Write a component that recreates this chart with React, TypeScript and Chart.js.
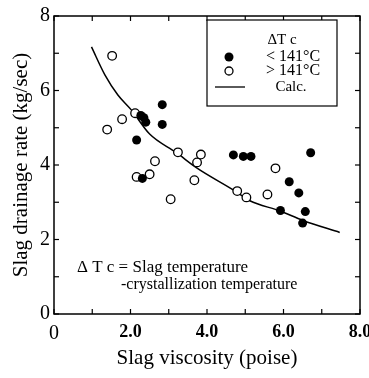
import React, { useEffect, useRef } from "react";
import { Chart, registerables } from "chart.js";

Chart.register(...registerables);

// ---- data ----
const filledX = [2.83, 2.83, 2.27, 2.35, 2.4, 2.16, 2.31, 4.69, 4.95, 5.15, 6.71, 6.15, 6.4, 5.92, 6.57, 6.5];
const filledY = [5.62, 5.09, 5.33, 5.27, 5.15, 4.67, 3.64, 4.27, 4.23, 4.23, 4.33, 3.55, 3.25, 2.78, 2.75, 2.44];

const openX = [1.52, 1.39, 1.78, 2.12, 2.16, 2.5, 2.64, 3.24, 3.05, 3.67, 3.74, 3.84, 4.79, 5.03, 5.58, 5.79];
const openY = [6.93, 4.95, 5.23, 5.39, 3.68, 3.75, 4.1, 4.34, 3.08, 3.59, 4.07, 4.28, 3.3, 3.13, 3.21, 3.91];

const calcX = [0.98, 1.33, 1.67, 2.02, 2.5, 3.2, 3.72, 4.72, 5.12, 5.9, 6.51, 7.47];
const calcY = [7.17, 6.42, 5.88, 5.48, 4.83, 4.33, 3.93, 3.31, 3.04, 2.77, 2.51, 2.19];

const xTickValues = [0, 2, 4, 6, 8];
const xTickLabels = ["0", "2.0", "4.0", "6.0", "8.0"];
const yTickValues = [0, 2, 4, 6, 8];
const yTickLabels = ["0", "2", "4", "6", "8"];
const minorTickValues = [0, 1, 2, 3, 4, 5, 6, 7, 8];

const legendTitle = "\u0394T c";
const legendLabels = ["< 141\u00B0C", "> 141\u00B0C", "Calc."];
const noteLines = ["\u0394 T c = Slag temperature", "-crystallization temperature"];
const xTitle = "Slag viscosity (poise)";
const yTitle = "Slag drainage rate (kg/sec)";

const SERIF = "'Liberation Serif', 'Times New Roman', serif";

const decorPlugin = {
  id: "decor",
  afterDatasetsDraw(chart: any) {
    const { ctx, chartArea: a, scales } = chart;
    const xs = scales.x;
    const ys = scales.y;
    ctx.save();
    ctx.strokeStyle = "#000";
    ctx.fillStyle = "#000";
    const line = (x1: number, y1: number, x2: number, y2: number) => {
      ctx.beginPath();
      ctx.moveTo(x1, y1);
      ctx.lineTo(x2, y2);
      ctx.stroke();
    };
    // frame
    ctx.lineWidth = 1.5;
    ctx.strokeRect(a.left, a.top, a.right - a.left, a.bottom - a.top);
    // inward ticks on all four sides
    ctx.lineWidth = 1.2;
    const tl = 5;
    for (const v of minorTickValues) {
      const px = xs.getPixelForValue(v);
      line(px, a.bottom, px, a.bottom - tl);
      line(px, a.top, px, a.top + tl);
      const py = ys.getPixelForValue(v);
      line(a.left, py, a.left + tl, py);
      line(a.right, py, a.right - tl, py);
    }

    // legend box
    const bx = 207, by = 20, bw = 130, bh = 86;
    ctx.fillStyle = "#fff";
    ctx.fillRect(bx, by, bw, bh);
    ctx.lineWidth = 1.2;
    ctx.strokeRect(bx, by, bw, bh);
    ctx.fillStyle = "#000";
    ctx.textBaseline = "middle";
    ctx.font = `15px ${SERIF}`;
    ctx.textAlign = "center";
    ctx.fillText(legendTitle, 282, 40);
    // filled marker
    ctx.beginPath();
    ctx.arc(229, 57, 4.5, 0, Math.PI * 2);
    ctx.fill();
    // open marker
    ctx.beginPath();
    ctx.arc(229, 71, 4, 0, Math.PI * 2);
    ctx.fillStyle = "#fff";
    ctx.fill();
    ctx.lineWidth = 1.3;
    ctx.stroke();
    ctx.fillStyle = "#000";
    // line sample
    ctx.lineWidth = 1.3;
    line(215, 87, 245, 87);
    ctx.font = `16px ${SERIF}`;
    ctx.textAlign = "left";
    ctx.fillText(legendLabels[0], 266, 57);
    ctx.fillText(legendLabels[1], 266, 71);
    ctx.textAlign = "center";
    ctx.font = `15px ${SERIF}`;
    ctx.fillText(legendLabels[2], 291, 87);

    // note text
    ctx.textAlign = "left";
    ctx.font = `17px ${SERIF}`;
    ctx.fillText(noteLines[0], 77, 268);
    ctx.font = `16px ${SERIF}`;
    ctx.fillText(noteLines[1], 121, 285);
    ctx.restore();
  },
};

export default function App() {
  const ref = useRef<HTMLCanvasElement | null>(null);

  useEffect(() => {
    if (!ref.current) return;
    Chart.defaults.font.family = SERIF;
    Chart.defaults.color = "#000";
    const chart = new Chart(ref.current, {
      type: "scatter",
      data: {
        datasets: [
          {
            label: legendLabels[0],
            data: filledX.map((x, i) => ({ x, y: filledY[i] })),
            backgroundColor: "#000",
            borderColor: "#000",
            pointRadius: 4.5,
            borderWidth: 0,
          },
          {
            label: legendLabels[1],
            data: openX.map((x, i) => ({ x, y: openY[i] })),
            backgroundColor: "#fff",
            borderColor: "#000",
            pointRadius: 4.3,
            borderWidth: 1.3,
          },
          {
            label: legendLabels[2],
            data: calcX.map((x, i) => ({ x, y: calcY[i] })),
            showLine: true,
            borderColor: "#000",
            borderWidth: 1.5,
            pointRadius: 0,
            cubicInterpolationMode: "monotone",
            fill: false,
          },
        ],
      },
      options: {
        animation: false,
        responsive: false,
        maintainAspectRatio: false,
        layout: { padding: { top: 14, right: 9, left: 0, bottom: 0 } },
        plugins: {
          legend: { display: false },
          tooltip: { enabled: false },
        },
        scales: {
          x: {
            type: "linear",
            min: 0,
            max: 8,
            afterBuildTicks: (s: any) => {
              s.ticks = xTickValues.map((v) => ({ value: v }));
            },
            afterFit: (s: any) => {
              s.height = 64;
              s.paddingRight = 0;
              s.paddingLeft = 0;
            },
            grid: { display: false, drawTicks: false },
            border: { display: false },
            ticks: {
              padding: 8,
              maxRotation: 0,
              autoSkip: false,
              callback: (v: any) => {
                const i = xTickValues.indexOf(Number(v));
                return i >= 0 ? xTickLabels[i] : "";
              },
              font: (c: any) =>
                c.tick && c.tick.value === 0
                  ? { family: SERIF, size: 20, weight: "normal" }
                  : { family: SERIF, size: 18, weight: "bold" },
            },
            title: {
              display: true,
              text: xTitle,
              font: { family: SERIF, size: 21 },
              padding: { top: 0, bottom: 7 },
            },
          },
          y: {
            type: "linear",
            min: 0,
            max: 8,
            afterBuildTicks: (s: any) => {
              s.ticks = yTickValues.map((v) => ({ value: v }));
            },
            afterFit: (s: any) => {
              s.width = 54;
            },
            grid: { display: false, drawTicks: false },
            border: { display: false },
            ticks: {
              padding: 4,
              autoSkip: false,
              callback: (v: any) => {
                const i = yTickValues.indexOf(Number(v));
                return i >= 0 ? yTickLabels[i] : "";
              },
              font: { family: SERIF, size: 20 },
            },
            title: {
              display: true,
              text: yTitle,
              font: { family: SERIF, size: 21 },
              padding: { top: 9, bottom: 0 },
            },
          },
        },
      },
      plugins: [decorPlugin],
    } as any);
    return () => chart.destroy();
  }, []);

  return (
    <div
      style={{
        position: "fixed",
        left: 0,
        top: 0,
        width: 369,
        height: 378,
        overflow: "hidden",
        background: "#fff",
      }}
    >
      <canvas ref={ref} width={369} height={378} style={{ width: 369, height: 378 }} />
    </div>
  );
}
